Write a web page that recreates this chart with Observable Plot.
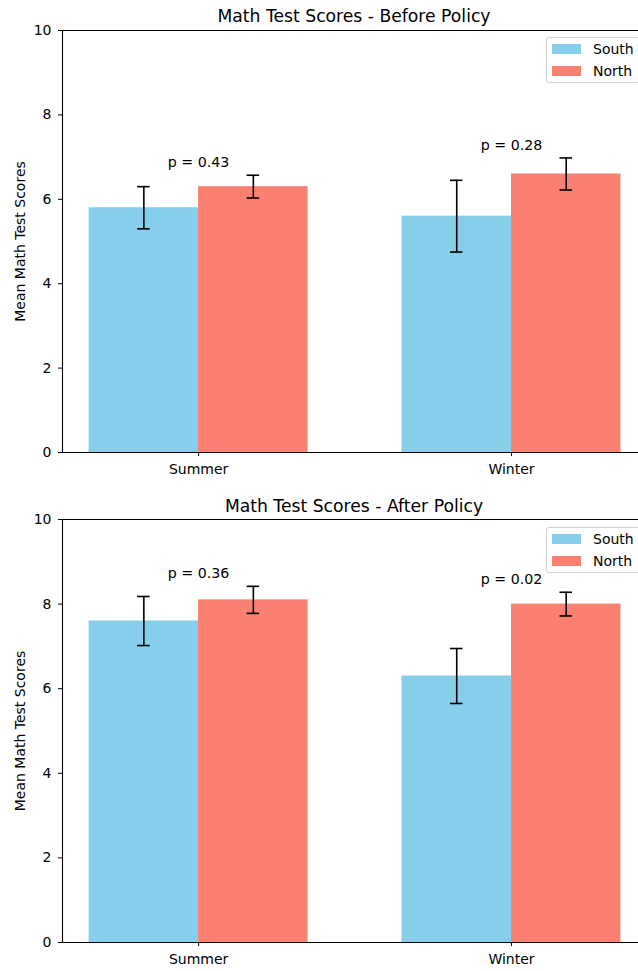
<!DOCTYPE html>
<html><head><meta charset="utf-8">
<script src="https://cdn.jsdelivr.net/npm/d3@7"></script>
<script src="https://cdn.jsdelivr.net/npm/@observablehq/plot@0.6"></script>
<style>
html,body{margin:0;padding:0;background:#fff;overflow:hidden;}
body{width:638px;height:971px;font-family:"DejaVu Sans",sans-serif;}
.panel{position:relative;width:638px;overflow:hidden;}
.title{position:absolute;left:0;width:708px;text-align:center;font-size:17.2px;line-height:20px;color:#000;z-index:2;}
.legend{position:absolute;left:546px;width:94px;height:46px;border:1px solid #d0d0d0;border-radius:3px;background:rgba(255,255,255,0.8);z-index:2;box-sizing:border-box;font-size:14px;color:#000;}
.sw{position:absolute;left:5px;width:28.5px;height:10px;}
.lt{position:absolute;left:46px;line-height:16px;}
</style></head><body><div id="root"></div>
<script>
const seasons = ["Summer", "Winter"];
const regions = ["South", "North"];
const regionColors = ["#87CEEB", "#FA8072"];
const yTicks = [0, 2, 4, 6, 8, 10];

const beforeSouthMean = [5.8, 5.6];
const beforeSouthErr  = [0.5, 0.85];
const beforeNorthMean = [6.3, 6.6];
const beforeNorthErr  = [0.27, 0.38];
const beforePValues   = ["0.43", "0.28"];

const afterSouthMean = [7.6, 6.3];
const afterSouthErr  = [0.58, 0.65];
const afterNorthMean = [8.1, 8.0];
const afterNorthErr  = [0.32, 0.28];
const afterPValues   = ["0.36", "0.02"];

const barWidth = 0.35;
const capHalf = 0.02;
const xDomain = [-0.435, 1.406];

function buildPanel(title, southMean, southErr, northMean, northErr, pValues, opts) {
  const rows = [];
  seasons.forEach((s, i) => {
    regions.forEach((r, j) => {
      const mean = j === 0 ? southMean[i] : northMean[i];
      const err = j === 0 ? southErr[i] : northErr[i];
      rows.push({season: s, i, region: r, mean, err,
        x1: i + (j - 1) * barWidth, x2: i + j * barWidth, xc: i + (j - 0.5) * barWidth});
    });
  });
  const caps = rows.flatMap(d => [
    {y: d.mean - d.err, x1: d.xc - capHalf, x2: d.xc + capHalf},
    {y: d.mean + d.err, x1: d.xc - capHalf, x2: d.xc + capHalf}
  ]);
  const pRows = seasons.map((s, i) => {
    const top = d3.max(rows.filter(d => d.i === i), d => d.mean + d.err);
    return {i, y: top + 0.3, label: "p = " + pValues[i]};
  });
  const chart = Plot.plot({
    width: 638, height: opts.height,
    marginTop: opts.marginTop, marginBottom: opts.marginBottom,
    marginLeft: 62, marginRight: 0,
    style: {fontFamily: "DejaVu Sans, sans-serif", fontSize: "14px", color: "#000", background: "white"},
    x: {domain: xDomain},
    y: {domain: [0, 10]},
    color: {domain: regions, range: regionColors},
    marks: [
      Plot.rectY(rows, {x1: "x1", x2: "x2", y1: 0, y2: "mean", fill: "region"}),
      Plot.ruleX(rows, {x: "xc", y1: d => d.mean - d.err, y2: d => d.mean + d.err, stroke: "black", strokeWidth: 1.6}),
      Plot.ruleY(caps, {y: "y", x1: "x1", x2: "x2", stroke: "black", strokeWidth: 1.6}),
      Plot.text(pRows, {x: "i", y: "y", text: "label", fontSize: 14.2, fill: "black"}),
      Plot.ruleY([0, 10], {stroke: "black", strokeWidth: 1.1}),
      Plot.ruleX([xDomain[0]], {stroke: "black", strokeWidth: 1.1}),
      Plot.axisY({ticks: yTicks, tickSize: 4, tickPadding: 7, label: null, fontSize: 14, stroke: "black"}),
      Plot.axisX({ticks: [0, 1], tickFormat: i => seasons[i], tickSize: 4, tickPadding: 7.5, label: null, fontSize: 14, stroke: "black"}),
      Plot.text(["Mean Math Test Scores"], {frameAnchor: "left", textAnchor: "middle", rotate: -90, dx: -42, text: d => d, fontSize: 14, fill: "black"})
    ]
  });
  const panel = document.createElement("div");
  panel.className = "panel";
  panel.style.height = opts.height + "px";
  const t = document.createElement("div");
  t.className = "title";
  t.style.top = opts.titleTop + "px";
  t.textContent = title;
  panel.appendChild(t);
  const lg = document.createElement("div");
  lg.className = "legend";
  lg.style.top = opts.legendTop + "px";
  regions.forEach((r, j) => {
    const sw = document.createElement("div");
    sw.className = "sw";
    sw.style.top = (6 + j * 21.5) + "px";
    sw.style.background = regionColors[j];
    lg.appendChild(sw);
    const lt = document.createElement("div");
    lt.className = "lt";
    lt.style.top = (3 + j * 21.5) + "px";
    lt.textContent = r;
    lg.appendChild(lt);
  });
  panel.appendChild(lg);
  panel.appendChild(chart);
  return panel;
}

const root = document.getElementById("root");
root.appendChild(buildPanel("Math Test Scores - Before Policy",
  beforeSouthMean, beforeSouthErr, beforeNorthMean, beforeNorthErr, beforePValues,
  {height: 490, marginTop: 30, marginBottom: 38, titleTop: 5.5, legendTop: 37}));
root.appendChild(buildPanel("Math Test Scores - After Policy",
  afterSouthMean, afterSouthErr, afterNorthMean, afterNorthErr, afterPValues,
  {height: 481, marginTop: 29, marginBottom: 29, titleTop: 5.5, legendTop: 37}));
</script>
</body></html>
